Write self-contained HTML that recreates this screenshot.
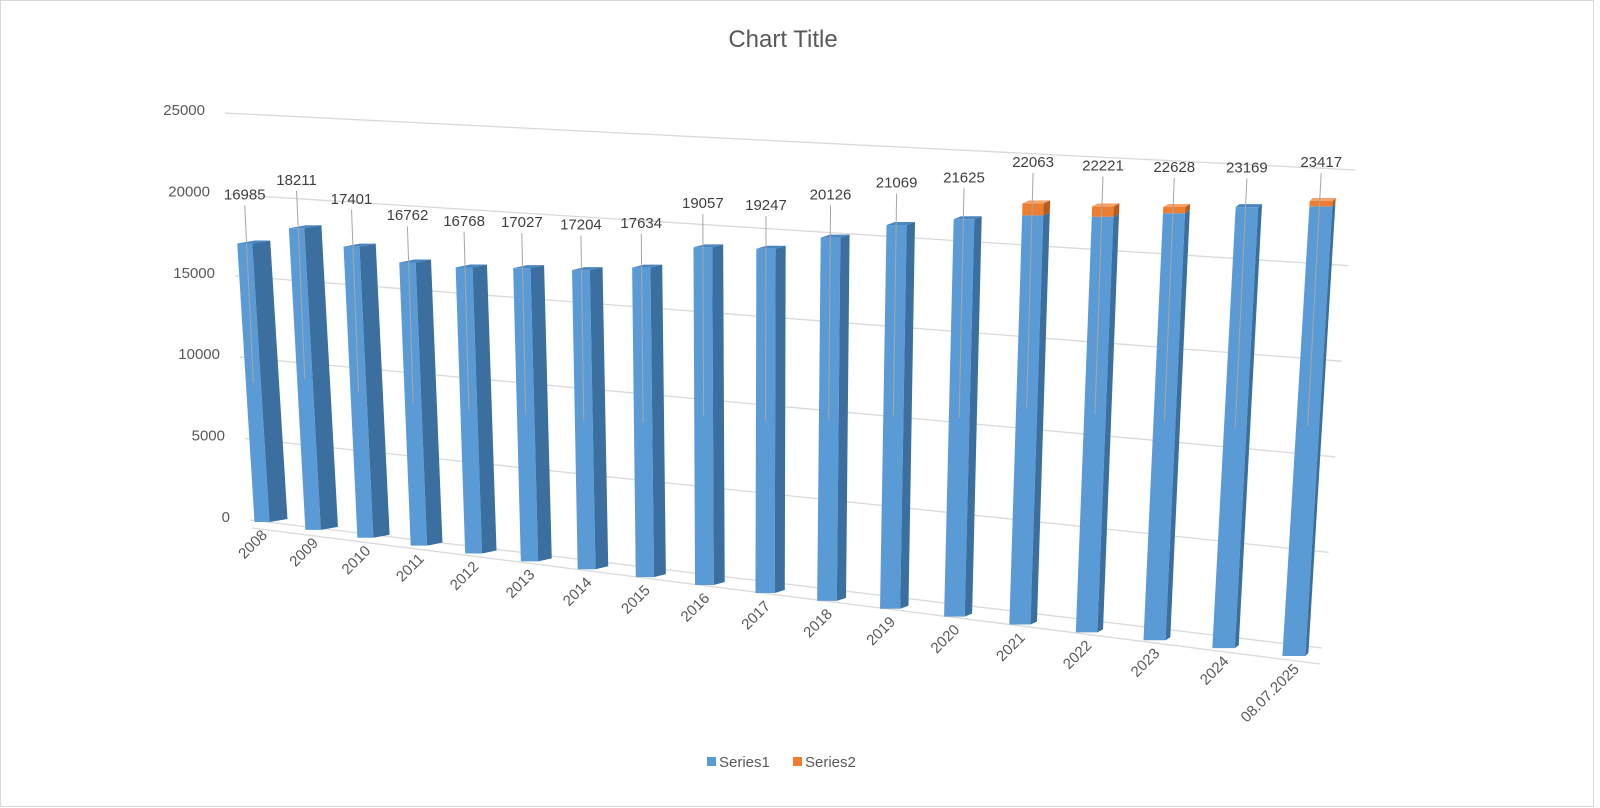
<!DOCTYPE html>
<html><head><meta charset="utf-8"><style>
html,body{margin:0;padding:0;background:#fff;}
svg{display:block;font-family:"Liberation Sans","DejaVu Sans",sans-serif;}
</style></head><body>
<svg id="chart" width="1600" height="808" viewBox="0 0 1600 808" xmlns="http://www.w3.org/2000/svg">
<rect x="0.5" y="0.5" width="1593" height="806" fill="#fff" stroke="#d9d9d9"/>
<text x="783" y="47" text-anchor="middle" font-size="24" fill="#595959">Chart Title</text>
<g id="grid"></g>
<g id="yaxis"></g>
<g id="bars"></g>
<g id="xaxis"></g>
<g>
<g><rect x="707" y="757" width="9" height="9" fill="#5b9bd5"/><text x="719" y="767" font-size="15" fill="#595959">Series1</text></g>
<g><rect x="793" y="757" width="9" height="9" fill="#ed7d31"/><text x="805" y="767" font-size="15" fill="#595959">Series2</text></g>
</g>
</svg>
<script>
const categories = ["2008","2009","2010","2011","2012","2013","2014","2015","2016","2017","2018","2019","2020","2021","2022","2023","2024","08.07.2025"];
const series1 = [16985,18211,17401,16762,16768,17027,17204,17634,19057,19247,20126,21069,21625,22063,22221,22628,23169,23417];
const series2 = [0,0,0,0,0,0,0,0,0,0,0,0,0,650,550,330,0,280];
const yTicks = [0,5000,10000,15000,20000,25000];
const yMax = 25000;

const NS = "http://www.w3.org/2000/svg";
function mk(tag, attrs, parent){const e=document.createElementNS(NS,tag);for(const k in attrs)e.setAttribute(k,attrs[k]);parent.appendChild(e);return e;}
const n = categories.length;
function tOf(i){return i/(n-1);}
function xOf(i){return 262 + 50.5*i + 0.6*i*i;}
function baseOf(i){return 522 + 134*tOf(i);}
function scaleOf(i){return 0.0164 + 0.0028*tOf(i);}
function leanOf(i){return -0.062 + 0.122*tOf(i);}
function frontW(i){return 15 + 8*tOf(i);}
function sideW(i){return 18 - 15*tOf(i);}

// gridlines
const grid = document.getElementById('grid');
const yaxis = document.getElementById('yaxis');
yTicks.forEach(v=>{
  const f=v/yMax;
  const x1=250-25*f, y1=520-v*0.01628, x2=1322+33*f, y2=648-v*0.01912;
  const l=mk('line',{x1:x1,y1:y1,x2:x2,y2:y2,stroke:'#d9d9d9','stroke-width':1.3},grid);
  
  
  const t=mk('text',{x:x1-20,y:y1+2,'text-anchor':'end','font-size':15,fill:'#595959'},yaxis);
  
  
  t.textContent=v;
});
mk('line',{x1:252,y1:528,x2:1320,y2:664,stroke:'#d9d9d9','stroke-width':1.3},grid);

const bars=document.getElementById('bars');
const xaxis=document.getElementById('xaxis');
function prism(g,xl,yb,h,i,fr,sd,lean,color,side,top){
  const dx=lean*h;
  const yt=yb-h;
  // front
  mk('polygon',{points:`${xl},${yb} ${xl+fr},${yb} ${xl+fr+dx},${yt} ${xl+dx},${yt}`,fill:color},g);
  // side
  mk('polygon',{points:`${xl+fr},${yb} ${xl+fr+sd},${yb-3} ${xl+fr+sd+dx},${yt-3} ${xl+fr+dx},${yt}`,fill:side},g);
  return {dx:dx,yt:yt};
}
categories.forEach((c,i)=>{
  const g=mk('g',{},bars);
  
  
  const xl=xOf(i)-frontW(i)/2, yb=baseOf(i), s=scaleOf(i), fr=frontW(i), sd=sideW(i), ln=leanOf(i);
  const h1=series1[i]*s, h2=series2[i]*s;
  prism(g,xl,yb,h1,i,fr,sd,ln,'#5b9bd5','#3b6fa0');
  let topY=yb-h1, topDx=ln*h1;
  if(series2[i]>0){
    const g2=mk('g',{},g);
    
    
    const dx=ln*h1;
    const yb2=yb-h1, yt2=yb2-h2, dx2=ln*(h1+h2);
    mk('polygon',{points:`${xl+dx},${yb2} ${xl+fr+dx},${yb2} ${xl+fr+dx2},${yt2} ${xl+dx2},${yt2}`,fill:'#ed7d31'},g2);
    mk('polygon',{points:`${xl+fr+dx},${yb2} ${xl+fr+sd+dx},${yb2-3} ${xl+fr+sd+dx2},${yt2-3} ${xl+fr+dx2},${yt2}`,fill:'#b85a1e'},g2);
    topY=yt2; topDx=dx2;
    mk('polygon',{points:`${xl+topDx},${topY} ${xl+fr+topDx},${topY} ${xl+fr+sd+topDx},${topY-3} ${xl+sd+topDx},${topY-3}`,fill:'#f4a36a'},g2);
  } else {
    mk('polygon',{points:`${xl+topDx},${topY} ${xl+fr+topDx},${topY} ${xl+fr+sd+topDx},${topY-3} ${xl+sd+topDx},${topY-3}`,fill:'#4a86c0'},g);
  }
  const cx=xl+topDx+fr/2;
  const ly=topY-44+10*tOf(i);
  mk('line',{x1:cx,y1:ly+6,x2:cx-ln*h1*0.5,y2:topY+h1*0.5,stroke:'#a6a6a6','stroke-width':1},g);
  const lab=mk('text',{x:cx,y:ly,'text-anchor':'middle','font-size':15,fill:'#404040'},g);
  
  
  lab.textContent=series1[i];
  const ax=xOf(i)+6, ay=yb+14;
  const xt=mk('text',{x:ax,y:ay,'text-anchor':'end','font-size':15,fill:'#595959',transform:`rotate(-45 ${ax} ${ay})`},xaxis);
  
  
  xt.textContent=c;
});
</script>
</body></html>
